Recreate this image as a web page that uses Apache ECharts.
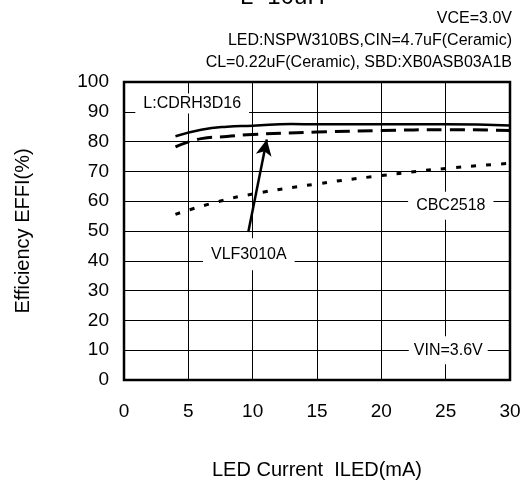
<!DOCTYPE html>
<html>
<head>
<meta charset="utf-8">
<script src="https://cdn.jsdelivr.net/npm/echarts@6/dist/echarts.min.js"></script>
<style>
  html, body { margin: 0; padding: 0; background: #fff; }
  #chart { width: 524px; height: 485px; }
</style>
</head>
<body>
<div id="chart"></div>
<script>
// data
const cdrh3d16 = [[4, 81.8], [6, 84], [8, 85], [10, 85.3], [13, 85.9], [15, 85.8], [20, 85.8], [25, 85.8], [30, 85.4]]
const vlf3010a = [[4, 78.2], [6, 81], [8, 81.7], [10, 82.4], [15, 83.2], [20, 83.7], [25, 84], [30, 83.7]]
const cbc2518 = [[4, 55.6], [7, 59.5], [10, 62.4], [15, 65.8], [20, 68.6], [25, 71], [30, 72.7]]
const arrowLine = [[9.66, 49.7], [11.1, 80.7]]
const notes = [
  { text: 'L:CDRH3D16', at: [5.3, 92.8], pad: [2, 8] },
  { text: 'CBC2518', at: [25.4, 58.5], pad: [6, 8] },
  { text: 'VLF3010A', at: [9.7, 42.2], pad: [8, 8] },
  { text: 'VIN=3.6V', at: [25.2, 10], pad: [6, 5] },
]
const headerLines = ['VCE=3.0V', 'LED:NSPW310BS,CIN=4.7uF(Ceramic)', 'CL=0.22uF(Ceramic), SBD:XB0ASB03A1B']

const font = 'Liberation Sans, Arial, sans-serif'
const chart = echarts.init(document.getElementById('chart'), null, { renderer: 'canvas' })

chart.setOption({
  animation: false,
  backgroundColor: '#fff',
  textStyle: { fontFamily: font, color: '#000' },
  graphic: [
    {
      type: 'text', left: 240, top: -15,
      style: { text: 'L=10uH', font: '24px ' + font, fill: '#000' },
    },
    ...headerLines.map((t, i) => ({
      type: 'text', right: 12, top: 11 + i * 22,
      style: { text: t, font: '16px ' + font, fill: '#000' },
    })),
  ],
  grid: {
    left: 124, right: 14, top: 82, bottom: 102,
    show: true, borderColor: '#000', borderWidth: 2.5,
  },
  xAxis: {
    type: 'value', min: 0, max: 30, interval: 5,
    name: 'LED Current  ILED(mA)', nameLocation: 'middle', nameGap: 80,
    nameTextStyle: { fontSize: 20, color: '#000' },
    axisLine: { show: false }, axisTick: { show: false },
    axisLabel: { fontSize: 19, color: '#000', margin: 22 },
    splitLine: { show: true, lineStyle: { color: '#000', width: 1 } },
  },
  yAxis: {
    type: 'value', min: 0, max: 100, interval: 10,
    name: 'Efficiency EFFI(%)', nameLocation: 'middle', nameGap: 91, nameRotate: 90,
    nameTextStyle: { fontSize: 20, color: '#000' },
    axisLine: { show: false }, axisTick: { show: false },
    axisLabel: { fontSize: 19, color: '#000', margin: 15 },
    splitLine: { show: true, lineStyle: { color: '#000', width: 1 } },
  },
  series: [
    {
      name: 'CDRH3D16', type: 'line', data: cdrh3d16, smooth: true, symbol: 'none',
      lineStyle: { color: '#000', width: 2.5 },
    },
    {
      name: 'VLF3010A', type: 'line', data: vlf3010a, smooth: true, symbol: 'none',
      lineStyle: { color: '#000', width: 3, type: [15, 8] },
      markLine: {
        silent: true, symbol: ['none', 'arrow'], symbolSize: [12, 16],
        lineStyle: { color: '#000', width: 2.5, type: 'solid' },
        label: { show: false },
        data: [[{ coord: arrowLine[0] }, { coord: arrowLine[1] }]],
      },
    },
    {
      name: 'CBC2518', type: 'line', data: cbc2518, smooth: true, symbol: 'none',
      lineStyle: { color: '#000', width: 3, type: [5, 10] },
    },
    {
      name: 'notes', type: 'scatter', symbolSize: 0, data: [], silent: true,
      markPoint: {
        symbol: 'rect', symbolSize: 0,
        label: {
          show: true, position: 'inside', color: '#000', fontSize: 16,
          backgroundColor: '#fff',
          formatter: p => p.name,
        },
        data: notes.map(n => ({ name: n.text, coord: n.at, label: { padding: n.pad } })),
      },
    },
  ],
})
</script>
</body>
</html>
